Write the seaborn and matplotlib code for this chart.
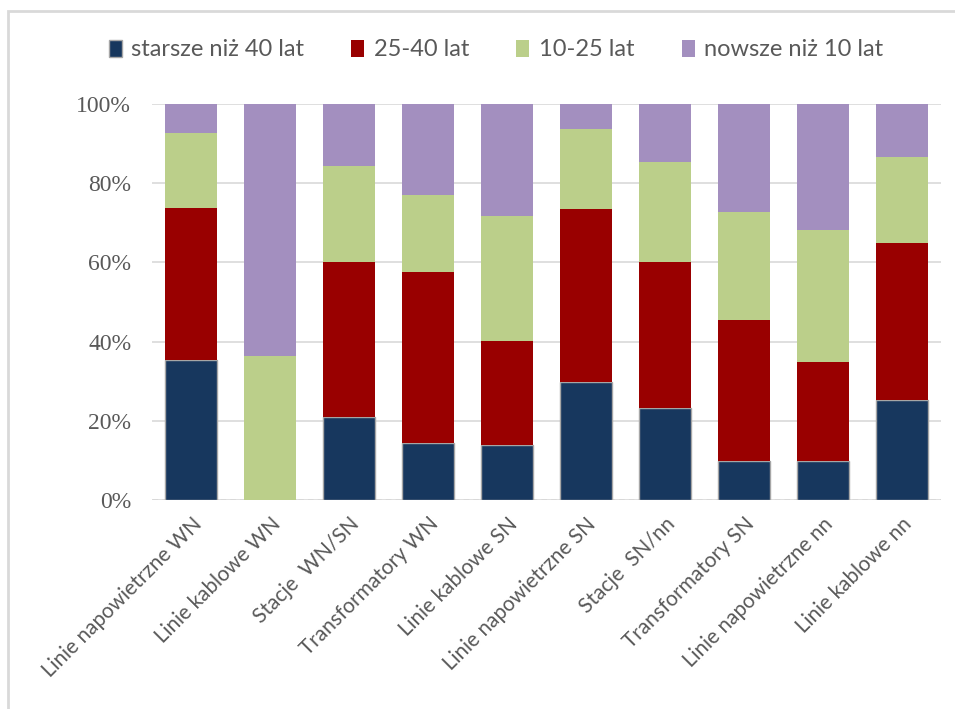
import matplotlib.pyplot as plt
import matplotlib.patches as mpatches
import numpy as np
import seaborn as sns

# kategorie (oś X)
kategorie = ["Linie napowietrzne WN", "Linie kablowe WN", "Stacje  WN/SN", "Transformatory WN",
             "Linie kablowe SN", "Linie napowietrzne SN", "Stacje  SN/nn", "Transformatory SN",
             "Linie napowietrzne nn", "Linie kablowe nn"]

# udziały wiekowe w %
starsze_40 = [35.4, 0.0, 21.0, 14.4, 13.9, 29.8, 23.2, 9.8, 9.8, 25.3]
lat_25_40 = [38.3, 0.0, 39.1, 43.2, 26.3, 43.7, 36.9, 35.7, 25.0, 39.6]
lat_10_25 = [19.0, 36.4, 24.2, 19.4, 31.5, 20.2, 25.3, 27.2, 33.4, 21.7]
nowsze_10 = [7.3, 63.6, 15.7, 23.0, 28.3, 6.3, 14.6, 27.3, 31.8, 13.4]

serie = ["starsze niż 40 lat", "25-40 lat", "10-25 lat", "nowsze niż 10 lat"]
kolory = ["#17375E", "#990000", "#BBCF8A", "#A38FBF"]

sns.set_style("white")
plt.rcParams['font.family'] = ['Lato', 'DejaVu Sans']

fig = plt.figure(figsize=(9.55, 7.09), dpi=100)
ax = fig.add_axes([152 / 955, 1 - 500 / 709, (941 - 152) / 955, (500 - 104) / 709])

bottom = np.zeros(len(kategorie))
for nazwa, wart, kol in zip(serie, [starsze_40, lat_25_40, lat_10_25, nowsze_10], kolory):
    wart = np.array(wart)
    edge = "#A6A6A6" if nazwa == serie[0] else "none"
    sns.barplot(x=kategorie, y=wart, bottom=bottom, color=kol, width=0.66, saturation=1,
                edgecolor=edge, linewidth=1.0, ax=ax, zorder=3)
    bottom = bottom + wart

ax.set_ylim(0, 100)
ax.set_xlim(-0.5, len(kategorie) - 0.5)
ax.set_yticks([0, 20, 40, 60, 80, 100])
ax.set_yticklabels([f"{v}%" for v in [0, 20, 40, 60, 80, 100]],
                   fontfamily="Liberation Serif", fontsize=17, color="#595959")
ax.yaxis.grid(True, color="#D9D9D9", linewidth=1.2, zorder=0)
ax.set_axisbelow(True)
for s in ax.spines.values():
    s.set_visible(False)
ax.axhline(0, color="#BFBFBF", linestyle=(0, (4, 3)), linewidth=1, zorder=1)
ax.tick_params(axis="y", length=0, pad=15)
ax.tick_params(axis="x", length=0, pad=10)
ax.set_xticks(range(len(kategorie)))
ax.set_xticklabels(kategorie, rotation=45, ha="right", rotation_mode="anchor",
                   fontsize=15, color="#595959")

uchwyty = [mpatches.Patch(facecolor=k, edgecolor="#A6A6A6" if i == 0 else "none")
           for i, k in enumerate(kolory)]
fig.legend(uchwyty, serie, loc="center", bbox_to_anchor=(496 / 955, 1 - 50 / 709), ncol=4,
           frameon=False, fontsize=17, labelcolor="#595959", handlelength=0.55,
           handleheight=0.75, handletextpad=0.4, columnspacing=2.0)

# ramka obszaru wykresu
ramka = mpatches.Rectangle((8 / 955, -0.05), 1.2, 1 - 11 / 709 + 0.05, transform=fig.transFigure,
                           fill=False, edgecolor="#D9D9D9", linewidth=2, clip_on=False)
fig.patches.append(ramka)

fig.savefig("out.png", dpi=100)
